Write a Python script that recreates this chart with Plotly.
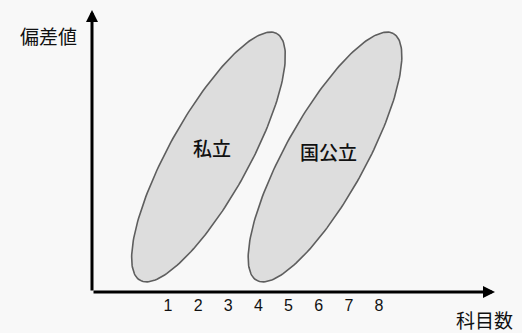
import numpy as np
import plotly.graph_objects as go

# ---------------------------------------------------------------------------
# Data (concept diagram: subjects vs. deviation value)
# ---------------------------------------------------------------------------
subject_ticks = [1, 2, 3, 4, 5, 6, 7, 8]

group_names = ['私立', '国公立']
center_x = [2.343, 6.209]    # subjects
center_y = [4.48, 4.48]      # deviation (arbitrary units)
semi_major = [4.68, 4.68]
semi_minor = [1.33, 1.33]
tilt_deg = [61, 61]
label_x = [2.46, 6.31]
label_y = [4.78, 4.65]

X_RANGE = [-1.522, 11.849]
Y_RANGE = [0, 9.356]

FONT = 'Noto Sans CJK JP'

fig = go.Figure()

# Ellipses
t = np.linspace(0, 2 * np.pi, 200)
for cx, cy, a, b, ang in zip(center_x, center_y, semi_major, semi_minor, tilt_deg):
    th = np.radians(ang)
    ex = cx + a * np.cos(t) * np.cos(th) - b * np.sin(t) * np.sin(th)
    ey = cy + a * np.cos(t) * np.sin(th) + b * np.sin(t) * np.cos(th)
    fig.add_trace(go.Scatter(
        x=ex, y=ey, mode='lines', fill='toself',
        fillcolor='#dddddd',
        line=dict(color='#5e5e5e', width=1.6),
        hoverinfo='skip', showlegend=False,
    ))

# Group labels
for name, lx, ly in zip(group_names, label_x, label_y):
    fig.add_annotation(
        x=lx, y=ly, text=name, showarrow=False,
        font=dict(family=FONT, size=19, color='#111111', weight=500),
    )

# Axes with arrows
fig.add_annotation(
    x=X_RANGE[1], y=0, ax=X_RANGE[0], ay=0,
    xref='x', yref='y', axref='x', ayref='y',
    text='', showarrow=True, arrowhead=2, arrowsize=0.8,
    arrowwidth=3, arrowcolor='#000000', standoff=0,
)
fig.add_annotation(
    x=X_RANGE[0], y=Y_RANGE[1], ax=X_RANGE[0], ay=0,
    xref='x', yref='y', axref='x', ayref='y',
    text='', showarrow=True, arrowhead=2, arrowsize=0.8,
    arrowwidth=3, arrowcolor='#000000', standoff=0,
)

# Axis titles (paper coords so they are not hidden outside the range)
fig.add_annotation(
    x=-0.107, y=0.908, xref='paper', yref='paper', text='偏差値',
    xanchor='center', yanchor='middle',
    showarrow=False, font=dict(family=FONT, size=19, color='#111111'),
)
fig.add_annotation(
    x=0.975, y=-0.096, xref='paper', yref='paper', text='科目数',
    xanchor='center', yanchor='middle',
    showarrow=False, font=dict(family=FONT, size=19, color='#111111'),
)

fig.update_layout(
    width=522, height=333,
    margin=dict(l=92, r=27, t=10, b=41),
    paper_bgcolor='#f8f8f8',
    plot_bgcolor='#f8f8f8',
    xaxis=dict(
        range=X_RANGE, tickvals=subject_ticks, ticks='',
        showgrid=False, zeroline=False, showline=False,
        tickfont=dict(family='Liberation Sans', size=16, color='#111111'),
        ticklabelstandoff=2,
        fixedrange=True,
    ),
    yaxis=dict(
        range=Y_RANGE, showticklabels=False, ticks='',
        showgrid=False, zeroline=False, showline=False,
        fixedrange=True,
    ),
)

fig.write_html(
    'out.html',
    config={'displayModeBar': False},
    post_script="document.body.style.margin='0';document.body.style.overflow='hidden';",
)
